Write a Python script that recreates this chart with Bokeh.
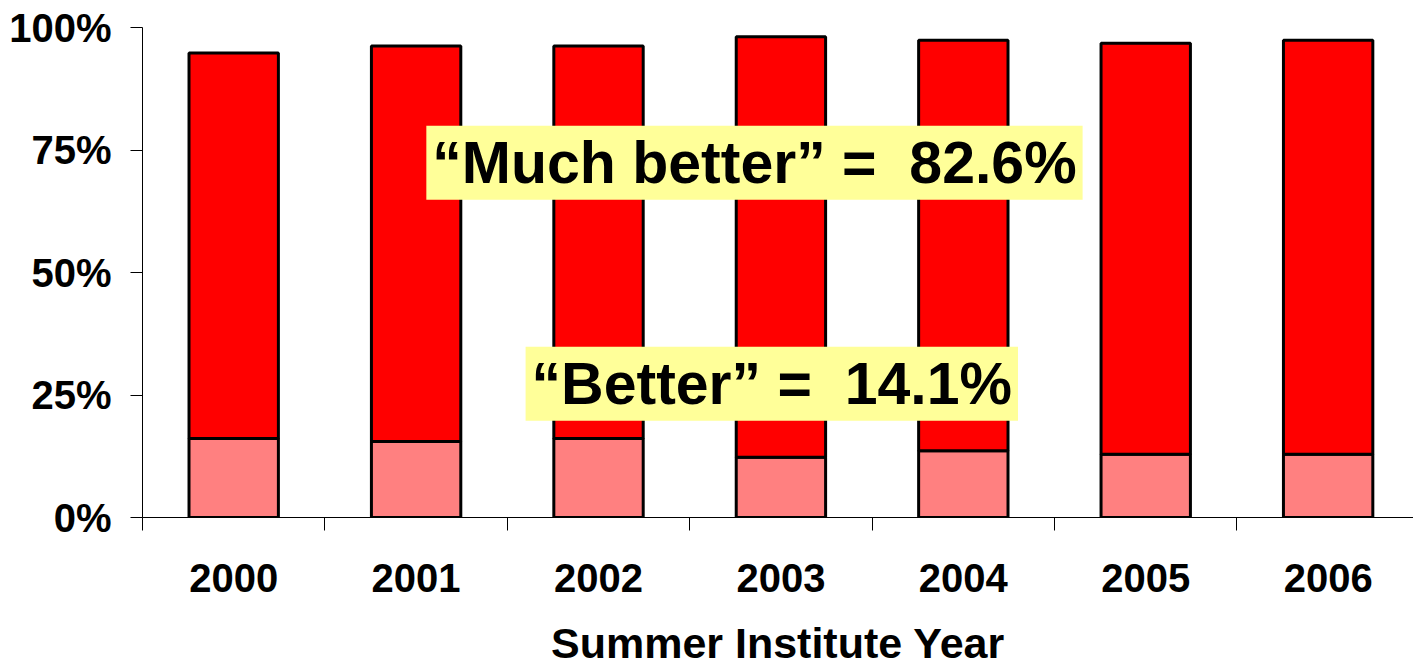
from bokeh.plotting import figure
from bokeh.models import Range1d, FixedTicker, Label, ColumnDataSource
from bokeh.embed import file_html
from bokeh.resources import INLINE

years = ["2000", "2001", "2002", "2003", "2004", "2005", "2006"]
better = [16.1, 15.5, 16.1, 12.3, 13.6, 12.9, 12.9]
much_better = [78.7, 80.7, 80.1, 85.8, 83.8, 83.9, 84.5]
y_ticks = [0, 25, 50, 75, 100]
y_tick_labels = ["0%", "25%", "50%", "75%", "100%"]
x_title = "Summer Institute Year"
note_much = "\u201cMuch better\u201d = \u00a082.6%"
note_better = "\u201cBetter\u201d = \u00a014.1%"

FONT = "Liberation Sans"
W, H = 1413, 669

centers = [i + 0.5 for i in range(len(years))]
totals = [b + m for b, m in zip(better, much_better)]
src = ColumnDataSource(dict(x=centers, better=better, total=totals))

p = figure(width=W, height=H, output_backend="svg", toolbar_location=None,
           x_range=Range1d(0, 6.968), y_range=Range1d(0, 100),
           min_border_left=142, min_border_right=0, min_border_top=27,
           min_border_bottom=150)
p.outline_line_color = None
p.xgrid.visible = False
p.ygrid.visible = False

p.vbar(x="x", bottom=0, top="better", width=0.49, source=src,
       fill_color="#FF8080", line_color="black", line_width=3)
p.vbar(x="x", bottom="better", top="total", width=0.49, source=src,
       fill_color="#FF0000", line_color="black", line_width=3)

# y axis
p.yaxis.ticker = FixedTicker(ticks=y_ticks)
p.yaxis.major_label_overrides = {t: l for t, l in zip(y_ticks, y_tick_labels)}
p.yaxis.major_tick_in = 0
p.yaxis.major_tick_out = 12
p.yaxis.minor_tick_line_color = None
p.yaxis.axis_line_color = "black"
p.yaxis.major_tick_line_color = "black"
p.yaxis.major_label_text_font = FONT
p.yaxis.major_label_text_font_style = "bold"
p.yaxis.major_label_text_font_size = "40px"
p.yaxis.major_label_text_color = "black"
p.yaxis.major_label_standoff = 19

# x axis
p.xaxis.ticker = FixedTicker(ticks=centers, minor_ticks=list(range(len(years) + 1)))
p.xaxis.major_label_overrides = {c: y for c, y in zip(centers, years)}
p.xaxis.major_tick_in = 0
p.xaxis.major_tick_out = 0
p.xaxis.minor_tick_in = 0
p.xaxis.minor_tick_out = 13
p.xaxis.minor_tick_line_color = "black"
p.xaxis.axis_line_color = "black"
p.xaxis.major_label_text_font = FONT
p.xaxis.major_label_text_font_style = "bold"
p.xaxis.major_label_text_font_size = "40px"
p.xaxis.major_label_text_color = "black"
p.xaxis.major_label_standoff = 33
p.xaxis.axis_label = x_title
p.xaxis.axis_label_text_font = FONT
p.xaxis.axis_label_text_font_style = "bold"
p.xaxis.axis_label_text_font_size = "43px"
p.xaxis.axis_label_text_color = "black"
p.xaxis.axis_label_standoff = 24

for txt, x, y in [(note_much, 3.355, 72.4), (note_better, 3.45, 27.3)]:
    p.add_layout(Label(x=x, y=y, text=txt, text_align="center", text_baseline="middle",
                       text_font=FONT, text_font_style="bold", text_font_size="59px",
                       text_color="black", background_fill_color="#FFFF99",
                       padding=dict(left=6, right=6, top=4, bottom=4)))

open("out.html", "w").write(file_html(p, INLINE))
